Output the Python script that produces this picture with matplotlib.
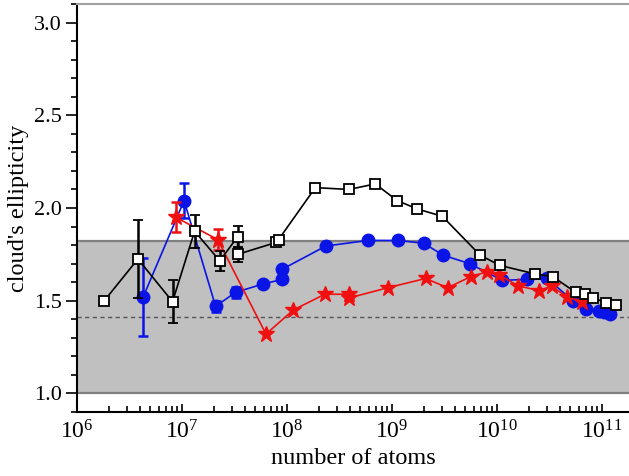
import numpy as np
import matplotlib
matplotlib.use("Agg")
import matplotlib.pyplot as plt

# data (x as log10 of atom number)
blk_logn = [6.26, 6.58, 6.91, 7.12, 7.36, 7.53, 7.53, 7.90, 7.92, 8.27, 8.59, 8.84, 9.05, 9.24, 9.48,
            9.84, 10.03, 10.36, 10.53, 10.75, 10.84, 10.91, 11.04, 11.13]
blk_ell = [1.50, 1.725, 1.495, 1.875, 1.715, 1.845, 1.75, 1.815, 1.83, 2.11, 2.10, 2.13, 2.04, 1.995, 1.955,
           1.745, 1.69, 1.645, 1.63, 1.545, 1.535, 1.515, 1.49, 1.475]
blk_err = [np.nan, 0.21, 0.115, 0.09, 0.055, 0.06, 0.04, np.nan, np.nan, np.nan, np.nan, np.nan, np.nan,
           np.nan, np.nan, np.nan, np.nan, np.nan, np.nan, np.nan, np.nan, np.nan, np.nan, np.nan]

blu_logn = [6.63, 7.02, 7.32, 7.51, 7.77, 7.955, 7.955, 8.37, 8.77, 9.06, 9.30, 9.49, 9.74,
            10.05, 10.29, 10.48, 10.72, 10.85, 10.97, 11.02, 11.08]
blu_ell = [1.52, 2.04, 1.47, 1.545, 1.59, 1.615, 1.67, 1.795, 1.825, 1.825, 1.81, 1.745, 1.70,
           1.61, 1.615, 1.62, 1.50, 1.458, 1.447, 1.437, 1.427]
blu_err = [0.21, 0.095, 0.03, 0.03, np.nan, np.nan, np.nan, np.nan, np.nan, np.nan, np.nan, np.nan, np.nan,
           np.nan, np.nan, np.nan, np.nan, np.nan, np.nan, np.nan, np.nan]

red_logn = [6.94, 7.34, 7.80, 8.06, 8.36, 8.59, 8.59, 8.96, 9.32, 9.53, 9.75, 9.90, 10.02,
            10.20, 10.40, 10.52, 10.67, 10.81]
red_ell = [1.95, 1.83, 1.32, 1.45, 1.535, 1.535, 1.515, 1.57, 1.62, 1.57, 1.63, 1.655, 1.64,
           1.58, 1.555, 1.578, 1.52, 1.495]
red_err = [0.08, 0.055, np.nan, np.nan, np.nan, np.nan, np.nan, np.nan, np.nan, np.nan, np.nan, np.nan,
           np.nan, np.nan, np.nan, np.nan, np.nan, np.nan]

band_lo, band_hi = 1.0, 1.82
ref_line = np.sqrt(2)

plt.rcParams['font.family'] = 'Liberation Serif'
plt.rcParams['mathtext.fontset'] = 'custom'
plt.rcParams['mathtext.rm'] = 'Liberation Serif'
plt.rcParams['mathtext.it'] = 'Liberation Serif:italic'

fig = plt.figure(figsize=(6.29, 4.76), dpi=100)
ax = fig.add_axes([0.1224, 0.1345, 0.8776, 0.857])

# grey band with darker edges
ax.axhspan(band_lo, band_hi, color='#c0c0c0', lw=0, zorder=0)
ax.axhline(band_lo, color='#808080', lw=1.6, zorder=1)
ax.axhline(band_hi, color='#808080', lw=1.6, zorder=1)
ax.axhline(ref_line, color='#555555', lw=1.0, ls=(0, (3, 2.5)), zorder=1)

ax.errorbar(10 ** np.array(blu_logn), blu_ell, yerr=blu_err, color='#0a14e6', lw=1.2,
            marker='o', ms=9, mec='#0a14e6', elinewidth=1.8, capsize=3.5, capthick=1.8, zorder=3)
ax.errorbar(10 ** np.array(red_logn), red_ell, yerr=red_err, color='#f01010', lw=1.2,
            marker='*', ms=12, mec='#f01010', elinewidth=1.8, capsize=3.5, capthick=1.8, zorder=4)
ax.errorbar(10 ** np.array(blk_logn), blk_ell, yerr=blk_err, color='black', lw=1.2,
            marker='s', ms=7.5, mfc='white', mec='black', mew=1.3,
            elinewidth=1.8, capsize=3.5, capthick=1.8, zorder=5)

ax.set_xscale('log')
ax.set_xlim(1e6, 10 ** 11.257)
ax.set_ylim(0.903, 3.10)
ax.set_yticks([1.0, 1.5, 2.0, 2.5, 3.0])
ax.set_yticks(np.arange(0.9, 3.11, 0.1), minor=True)
ax.yaxis.set_major_formatter(matplotlib.ticker.FormatStrFormatter('%.1f'))

ax.tick_params(axis='y', which='major', direction='out', length=8, width=1.2, labelsize=16, pad=3)
ax.tick_params(axis='y', which='minor', direction='out', length=4.5, width=1.2)
ax.tick_params(axis='x', which='major', direction='in', length=6, width=1.2, labelsize=17, pad=6)
ax.tick_params(axis='x', which='minor', direction='in', length=4, width=1.2)

ax.spines['right'].set_visible(False)
ax.spines['top'].set_color('#a0a0a0')
ax.spines['top'].set_linewidth(1.5)
ax.spines['left'].set_linewidth(1.5)
ax.spines['bottom'].set_linewidth(1.5)

ax.set_xlabel('number of atoms', fontsize=17.5, labelpad=3)
ax.set_ylabel("cloud's ellipticity", fontsize=17.5)
ax.yaxis.set_label_coords(-0.087, 0.5)

fig.savefig('out.png', dpi=100)
